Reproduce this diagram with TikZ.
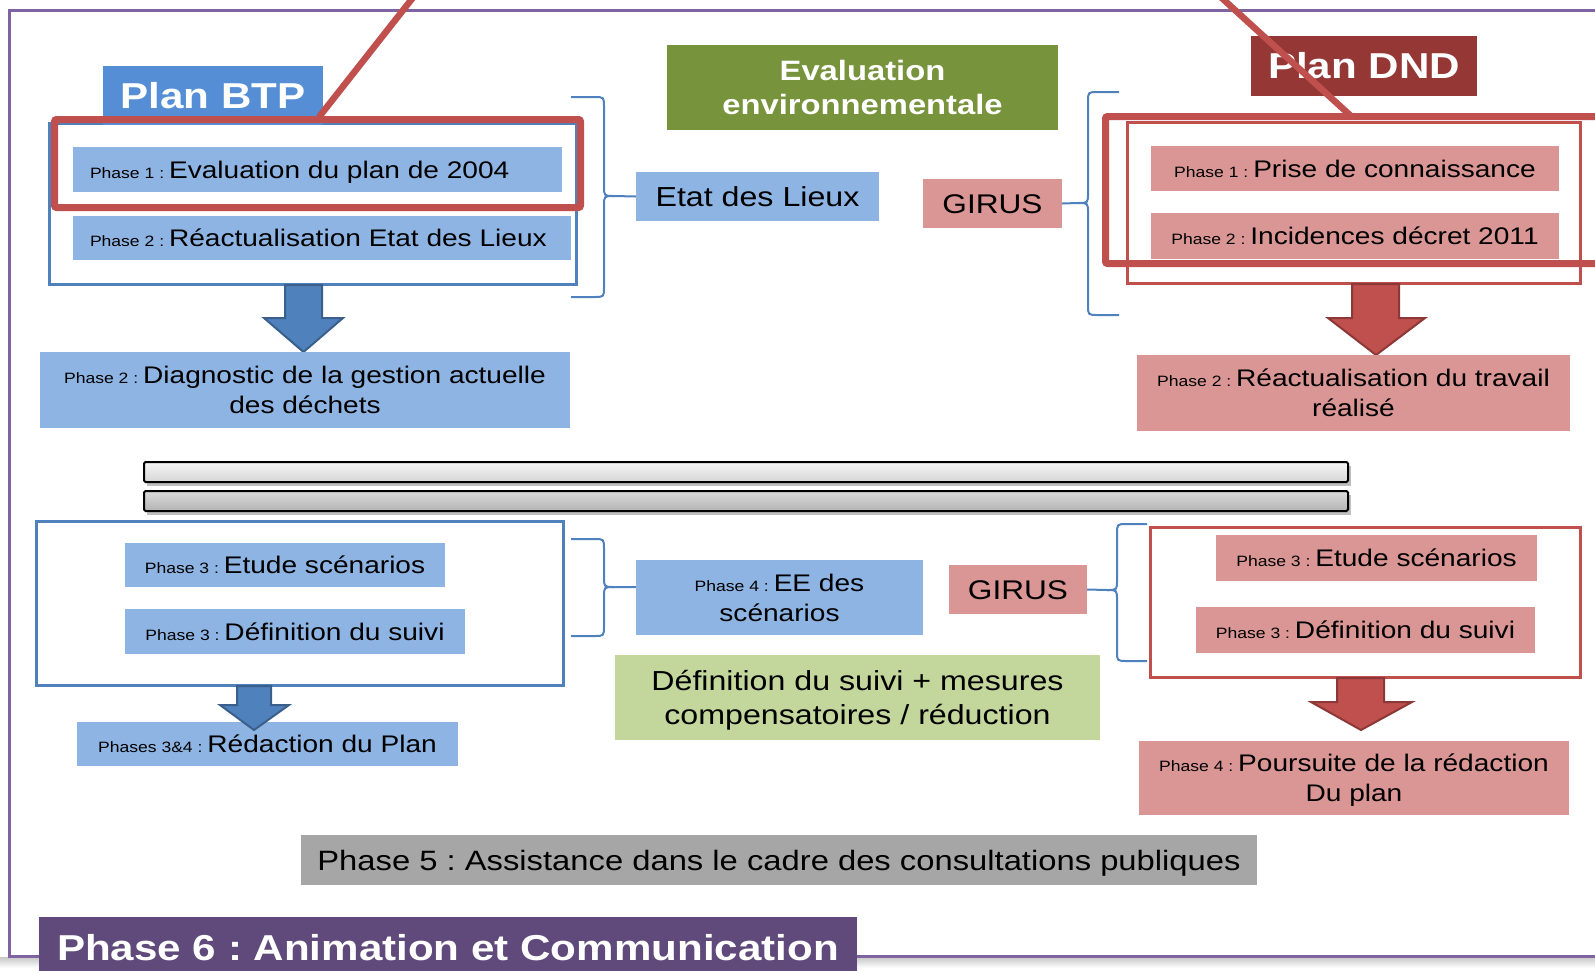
\documentclass[tikz,border=0pt]{standalone}
\usepackage{fontspec}
\setmainfont{Liberation Sans}[FakeStretch=1.17]
\definecolor{bfill}{HTML}{8EB4E3}
\definecolor{pfill}{HTML}{D99694}
\definecolor{bline}{HTML}{4F81BD}
\definecolor{bdark}{HTML}{3A5F8B}
\definecolor{rline}{HTML}{C0504D}
\definecolor{rdark}{HTML}{8C3836}
\definecolor{btpcol}{HTML}{558ED5}
\definecolor{dndcol}{HTML}{953735}
\definecolor{evalcol}{HTML}{77933C}
\definecolor{lgreen}{HTML}{C3D69B}
\definecolor{p5col}{HTML}{A6A6A6}
\definecolor{p6col}{HTML}{604A7B}
\definecolor{framecol}{HTML}{8064A2}
\newcommand\phlab[1]{{\fontsize{15}{18}\selectfont #1 : }}
\newcommand\nodesc[1]{\raisebox{0pt}[\height][0pt]{#1}}
\frenchspacing
\begin{document}
\begin{tikzpicture}[x=1pt,y=-1pt,
  box/.style={rectangle, inner sep=0pt, align=center, text=black, font=\fontsize{24}{30}\selectfont},
  one/.style={text height=17.2pt, text depth=0pt},
  bbox/.style={box, fill=bfill},
  pbox/.style={box, fill=pfill},
  grpb/.style={rectangle, draw=bline, line width=3pt, inner sep=0pt},
  grpr/.style={rectangle, draw=rline, line width=3pt, inner sep=0pt},
  hilite/.style={draw=rline, line width=7pt, rounded corners=2pt},
  redline/.style={draw=rline, line width=6.5pt},
  brace/.style={draw=bline, line width=2pt},
  barrow/.style={fill=bline, draw=bdark, line width=2pt},
  rarrow/.style={fill=rline, draw=rdark, line width=2pt},
  barbox/.style={draw=black, line width=2pt, rounded corners=1.5pt},
  title/.style={rectangle, inner sep=0pt, text=white, font=\bfseries\fontsize{36}{40}\selectfont, text height=25.8pt, text depth=0pt},
  frame/.style={draw=framecol, line width=3pt}
]
\useasboundingbox (0,0) rectangle (1595,970);
\clip (0,0) rectangle (1595,970);

% outer frame
\shade[top color=black!22, bottom color=white] (0,957) rectangle (1595,968);
\draw[frame] (1620,10) -- (9,10) -- (9,956) -- (1620,956);

% ---------- BTP top ----------
\node[grpb, minimum width=527pt, minimum height=161pt] (btpg) at (313,204) {};
\node[title, fill=btpcol, minimum width=220pt, minimum height=59pt] (planbtp) at (213,95.5) {Plan BTP};
\node[bbox, one, minimum width=489pt, minimum height=45pt] (btp1) at (317.5,169.5)
  {\makebox[455pt][l]{\phlab{Phase 1}Evaluation du plan de 2004}};
\node[bbox, one, minimum width=498pt, minimum height=44pt] (btp2) at (322,238)
  {\makebox[464pt][l]{\phlab{Phase 2}Réactualisation Etat des Lieux}};
\draw[hilite] (54.5,119.5) rectangle (580.5,207.5);
\draw[redline] (415,-5) -- (319,117);

\draw[barrow] (285,285) -- (322,285) -- (322,318) -- (343,318) -- (303.5,352) -- (264,318) -- (285,318) -- cycle;
\node[bbox, minimum width=530pt, minimum height=76pt] (diag) at (305,390)
  {\phlab{Phase 2}Diagnostic de la gestion actuelle\\des déchets};

% ---------- centre top ----------
\node[title, fill=evalcol, minimum width=391pt, minimum height=85pt, align=center,
  font=\bfseries\fontsize{28}{34}\selectfont, text height=, text depth=] (eval) at (862.5,87.5)
  {Evaluation\\environnementale};
\node[bbox, minimum width=243pt, minimum height=49pt, font=\fontsize{27.5}{32}\selectfont,
  text height=19.7pt, text depth=0pt] (etat) at (757.5,196.5) {Etat des Lieux};
\node[pbox, minimum width=139pt, minimum height=49pt, font=\fontsize{27}{32}\selectfont,
  text height=19.3pt, text depth=0pt] (girus1) at (992.5,203.5) {GIRUS};

\draw[brace] (571,97) -- (594,97) .. controls (604,97) .. (604,107) -- (604,186)
  .. controls (604,196) .. (614,196) -- (etat.west);
\draw[brace] (614,196) .. controls (604,196) .. (604,206) -- (604,287)
  .. controls (604,297) .. (594,297) -- (571,297);

\draw[brace] (1119,92) -- (1098,92) .. controls (1088,92) .. (1088,102) -- (1088,193)
  .. controls (1088,203) .. (1078,203) -- (girus1.east);
\draw[brace] (1078,203) .. controls (1088,203) .. (1088,213) -- (1088,305)
  .. controls (1088,315) .. (1098,315) -- (1119,315);

% ---------- DND top ----------
\node[grpr, minimum width=453pt, minimum height=161pt] (dndg) at (1354,203) {};
\node[pbox, one, minimum width=408pt, minimum height=45pt] (dnd1) at (1355,168.5)
  {\phlab{Phase 1}Prise de connaissance};
\node[pbox, one, minimum width=408pt, minimum height=46pt] (dnd2) at (1355,236)
  {\phlab{Phase 2}Incidences décret 2011};
\draw[hilite] (1620,116.5) -- (1105.5,116.5) -- (1105.5,263.5) -- (1620,263.5);
\node[title, fill=dndcol, minimum width=226pt, minimum height=60pt] (plandnd) at (1364,66) {Plan DND};
\draw[redline] (1218.5,-5) -- (1352,117);

\draw[rarrow] (1352,284) -- (1399,284) -- (1399,318) -- (1425,318) -- (1376,355) -- (1328,318) -- (1352,318) -- cycle;
\node[pbox, minimum width=433pt, minimum height=76pt] (reac) at (1353.5,393)
  {\phlab{Phase 2}Réactualisation du travail\\réalisé};

% ---------- separator bars ----------
\fill[black!25] (147,466) rectangle (1351,486);
\draw[barbox, top color=black!4, bottom color=black!16] (144,462) rectangle (1348,482);
\fill[black!25] (147,495) rectangle (1351,515);
\draw[barbox, top color=black!14, bottom color=black!30] (144,491) rectangle (1348,511);

% ---------- BTP bottom ----------
\node[grpb, minimum width=527pt, minimum height=164pt] (btpg2) at (300,603.5) {};
\node[bbox, one, minimum width=320pt, minimum height=44pt] (btp3a) at (285,565)
  {\phlab{Phase 3}Etude scénarios};
\node[bbox, one, minimum width=340pt, minimum height=45pt] (btp3b) at (295,631.5)
  {\phlab{Phase 3}Définition du suivi};
\node[bbox, one, minimum width=381pt, minimum height=44pt] (redac) at (267.5,744)
  {\phlab{Phases 3\&4}Rédaction du Plan};
\draw[barrow] (237,686) -- (271,686) -- (271,705) -- (289,705) -- (254,730) -- (220,705) -- (237,705) -- cycle;

% ---------- centre bottom ----------
\node[bbox, minimum width=287pt, minimum height=75pt] (ee4) at (779.5,597.5)
  {\phlab{Phase 4}EE des\\scénarios};
\node[pbox, minimum width=138pt, minimum height=49pt, font=\fontsize{27}{32}\selectfont,
  text height=19.3pt, text depth=0pt] (girus2) at (1018,589.5) {GIRUS};
\node[box, fill=lgreen, minimum width=485pt, minimum height=85pt, font=\fontsize{27.5}{34}\selectfont] (suivi) at (857.5,697.5)
  {Définition du suivi + mesures\\\nodesc{compensatoires / réduction}};

\draw[brace] (571,539) -- (594,539) .. controls (604,539) .. (604,549) -- (604,577)
  .. controls (604,587) .. (614,587) -- ([yshift=10.5pt]ee4.west);
\draw[brace] (614,587) .. controls (604,587) .. (604,597) -- (604,626)
  .. controls (604,636) .. (594,636) -- (571,636);

\draw[brace] (1147,524) -- (1127,524) .. controls (1117,524) .. (1117,534) -- (1117,580)
  .. controls (1117,590) .. (1107,590) -- (girus2.east);
\draw[brace] (1107,590) .. controls (1117,590) .. (1117,600) -- (1117,651)
  .. controls (1117,661) .. (1127,661) -- (1147,661);

% ---------- DND bottom ----------
\node[grpr, minimum width=430pt, minimum height=150pt] (dndg2) at (1365.5,602.5) {};
\node[pbox, one, minimum width=321pt, minimum height=46pt] (dnd3a) at (1376.5,558)
  {\phlab{Phase 3}Etude scénarios};
\node[pbox, one, minimum width=339pt, minimum height=46pt] (dnd3b) at (1365.5,630)
  {\phlab{Phase 3}Définition du suivi};
\draw[rarrow] (1337,678) -- (1384,678) -- (1384,702) -- (1412,702) -- (1361,730) -- (1311,702) -- (1337,702) -- cycle;
\node[pbox, minimum width=430pt, minimum height=74pt] (pours) at (1354,778)
  {\phlab{Phase 4}Poursuite de la rédaction\\\nodesc{Du plan}};

% ---------- phases 5 and 6 ----------
\node[box, fill=p5col, minimum width=956pt, minimum height=50pt, font=\fontsize{28}{32}\selectfont,
  text height=20pt, text depth=0pt] (p5) at (779,860)
  {Phase 5 : Assistance dans le cadre des consultations publiques};
\node[box, fill=p6col, text=white, minimum width=818pt, minimum height=62pt,
  font=\bfseries\fontsize{36}{40}\selectfont, text height=25.8pt, text depth=0pt] (p6) at (448,948)
  {Phase 6 : Animation et Communication};
\end{tikzpicture}
\end{document}
